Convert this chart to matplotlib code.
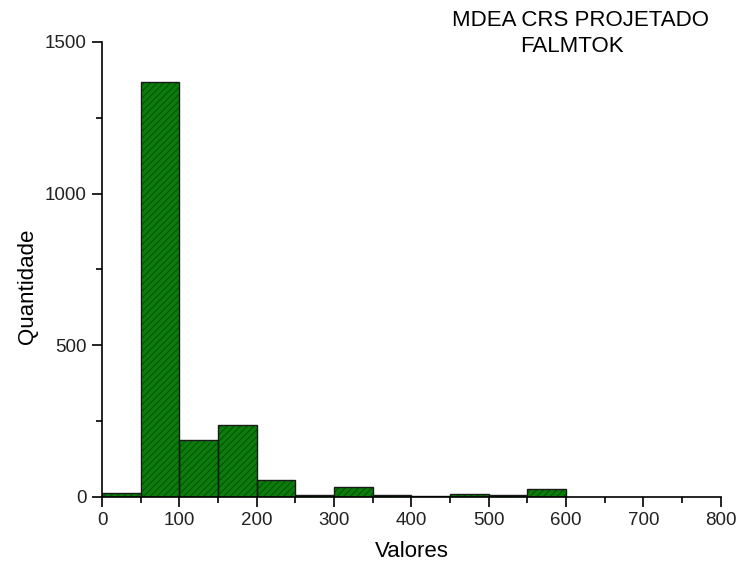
import matplotlib
matplotlib.use("Agg")
import matplotlib.pyplot as plt
from matplotlib.ticker import MultipleLocator

bin_edges = [0, 50, 100, 150, 200, 250, 300, 350, 400, 450, 500, 550, 600]
counts = [13, 1368, 189, 238, 55, 7, 34, 6, 3, 9, 7, 25]
title_lines = ["MDEA CRS PROJETADO", "FALMTOK"]

plt.rcParams['font.family'] = ['Liberation Sans', 'DejaVu Sans']
plt.rcParams['hatch.linewidth'] = 0.8

fig = plt.figure(figsize=(7.37, 5.62), dpi=100)
ax = fig.add_axes([0.1384, 0.1157, 0.8396, 0.8096])

lefts = bin_edges[:-1]
widths = [b - a for a, b in zip(bin_edges[:-1], bin_edges[1:])]
ax.bar(lefts, counts, width=widths, align='edge', color='#0b7d0b',
       edgecolor='#045004', hatch='/////', linewidth=0)
ax.bar(lefts, counts, width=widths, align='edge', fill=False,
       edgecolor='#1a1a1a', linewidth=1.0)

ax.set_xlim(0, 800)
ax.set_ylim(0, 1500)
ax.xaxis.set_major_locator(MultipleLocator(100))
ax.xaxis.set_minor_locator(MultipleLocator(50))
ax.yaxis.set_major_locator(MultipleLocator(500))
ax.yaxis.set_minor_locator(MultipleLocator(250))
for s in ['top', 'right']:
    ax.spines[s].set_visible(False)
for s in ['left', 'bottom']:
    ax.spines[s].set_linewidth(1.2)
ax.tick_params(which='major', direction='out', length=7, width=1.2, labelsize=13.5, colors='black')
ax.tick_params(which='minor', direction='out', length=4, width=1.2)
ax.tick_params(axis='both', labelcolor='#222222')
ax.tick_params(axis='y', pad=4)
ax.tick_params(axis='x', pad=4)

ax.set_xlabel("Valores", fontsize=16, labelpad=8.5)
ax.set_ylabel("Quantidade", fontsize=16)
ax.yaxis.set_label_coords(-0.104, 0.462)
fig.text(580 / 737, 1 - 20 / 562, title_lines[0], ha='center', va='center', fontsize=16)
fig.text(572 / 737, 1 - 46 / 562, title_lines[1], ha='center', va='center', fontsize=16)

fig.savefig("out.png", dpi=100)
